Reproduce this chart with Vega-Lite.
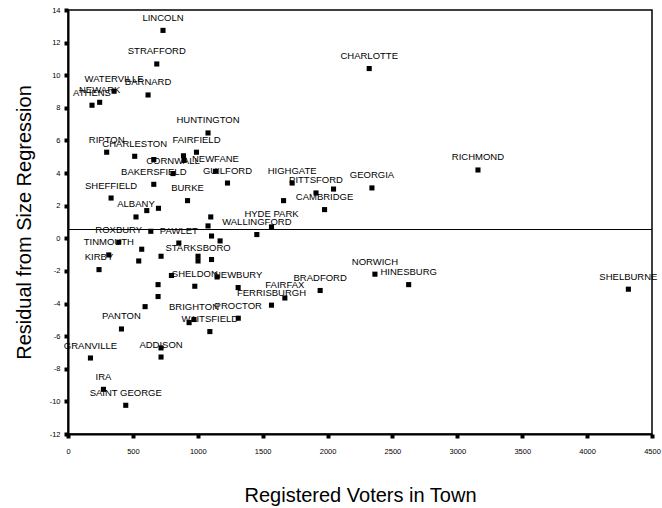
{
  "$schema": "https://vega.github.io/schema/vega-lite/v6.json",
  "width": 584,
  "height": 424,
  "autosize": "none",
  "padding": {"left": 68, "top": 10, "right": 10, "bottom": 74},
  "background": "white",
  "config": {
    "view": {"stroke": "black", "strokeWidth": 1.5},
    "axis": {
      "grid": false,
      "domainColor": "black",
      "domainWidth": 2,
      "tickColor": "black",
      "tickSize": 4,
      "tickWidth": 4,
      "labelColor": "black",
      "labelFont": "Liberation Sans",
      "labelFontSize": 7.5,
      "titleFont": "Liberation Sans",
      "titleFontSize": 20,
      "titleFontWeight": "normal",
      "titleColor": "black"
    }
  },
  "data": {
    "values": [
      {"town": "LINCOLN", "voters": 732, "resid": 12.75},
      {"town": "STRAFFORD", "voters": 684, "resid": 10.69},
      {"town": "BARNARD", "voters": 617, "resid": 8.79},
      {"town": "WATERVILLE", "voters": 355, "resid": 9.02},
      {"town": "NEWARK", "voters": 244, "resid": 8.34},
      {"town": "ATHENS", "voters": 185, "resid": 8.16},
      {"town": "CHARLOTTE", "voters": 2321, "resid": 10.41},
      {"town": "HUNTINGTON", "voters": 1079, "resid": 6.46},
      {"town": "RIPTON", "voters": 298, "resid": 5.28},
      {"town": "CHARLESTON", "voters": 514, "resid": 5.03},
      {"town": "FAIRFIELD", "voters": 990, "resid": 5.28},
      {"town": "CORNWALL", "voters": 809, "resid": 3.97},
      {"town": "NEWFANE", "voters": 1136, "resid": 4.11},
      {"town": "BAKERSFIELD", "voters": 661, "resid": 3.31},
      {"town": "GUILFORD", "voters": 1229, "resid": 3.39},
      {"town": "HIGHGATE", "voters": 1727, "resid": 3.39},
      {"town": "PITTSFORD", "voters": 1911, "resid": 2.78},
      {"town": "GEORGIA", "voters": 2342, "resid": 3.09},
      {"town": "RICHMOND", "voters": 3159, "resid": 4.19},
      {"town": "SHEFFIELD", "voters": 332, "resid": 2.47},
      {"town": "BURKE", "voters": 921, "resid": 2.31},
      {"town": "CAMBRIDGE", "voters": 1977, "resid": 1.76},
      {"town": "ALBANY", "voters": 524, "resid": 1.31},
      {"town": "HYDE PARK", "voters": 1568, "resid": 0.70},
      {"town": "WALLINGFORD", "voters": 1455, "resid": 0.23},
      {"town": "ROXBURY", "voters": 391, "resid": -0.24},
      {"town": "PAWLET", "voters": 854, "resid": -0.29},
      {"town": "TINMOUTH", "voters": 314, "resid": -1.02},
      {"town": "STARKSBORO", "voters": 1002, "resid": -1.39},
      {"town": "KIRBY", "voters": 239, "resid": -1.92},
      {"town": "SHELDON", "voters": 977, "resid": -2.94},
      {"town": "NEWBURY", "voters": 1311, "resid": -3.02},
      {"town": "NORWICH", "voters": 2365, "resid": -2.20},
      {"town": "HINESBURG", "voters": 2625, "resid": -2.84},
      {"town": "BRADFORD", "voters": 1943, "resid": -3.20},
      {"town": "FAIRFAX", "voters": 1671, "resid": -3.66},
      {"town": "FERRISBURGH", "voters": 1568, "resid": -4.10},
      {"town": "SHELBURNE", "voters": 4318, "resid": -3.12},
      {"town": "BRIGHTON", "voters": 971, "resid": -4.98},
      {"town": "PROCTOR", "voters": 1312, "resid": -4.90},
      {"town": "WAITSFIELD", "voters": 1093, "resid": -5.72},
      {"town": "PANTON", "voters": 412, "resid": -5.56},
      {"town": "ADDISON", "voters": 717, "resid": -7.28},
      {"town": "GRANVILLE", "voters": 173, "resid": -7.34},
      {"town": "IRA", "voters": 273, "resid": -9.26},
      {"town": "SAINT GEORGE", "voters": 445, "resid": -10.24},
      {"town": "", "voters": 661, "resid": 4.83},
      {"town": "", "voters": 890, "resid": 5.06},
      {"town": "", "voters": 895, "resid": 4.78},
      {"town": "", "voters": 607, "resid": 1.70},
      {"town": "", "voters": 697, "resid": 1.84},
      {"town": "", "voters": 1100, "resid": 1.31},
      {"town": "", "voters": 1079, "resid": 0.76},
      {"town": "", "voters": 638, "resid": 0.43},
      {"town": "", "voters": 1106, "resid": 0.14},
      {"town": "", "voters": 1172, "resid": -0.16},
      {"town": "", "voters": 568, "resid": -0.67},
      {"town": "", "voters": 545, "resid": -1.39},
      {"town": "", "voters": 717, "resid": -1.10},
      {"town": "", "voters": 1002, "resid": -1.10},
      {"town": "", "voters": 1106, "resid": -1.30},
      {"town": "", "voters": 797, "resid": -2.28},
      {"town": "", "voters": 1149, "resid": -2.37},
      {"town": "", "voters": 694, "resid": -2.84},
      {"town": "", "voters": 694, "resid": -3.57},
      {"town": "", "voters": 594, "resid": -4.19},
      {"town": "", "voters": 933, "resid": -5.17},
      {"town": "", "voters": 717, "resid": -6.72},
      {"town": "", "voters": 1661, "resid": 2.31},
      {"town": "", "voters": 2046, "resid": 3.02}
    ]
  },
  "encoding": {
    "x": {
      "field": "voters",
      "type": "quantitative",
      "scale": {"domain": [0, 4500], "nice": false, "zero": false},
      "axis": {
        "title": "Registered Voters in Town",
        "values": [0, 500, 1000, 1500, 2000, 2500, 3000, 3500, 4000, 4500],
        "labelExpr": "'' + datum.value",
        "labelPadding": 9,
        "titlePadding": 31,
        "labelFlush": false,
        "labelOverlap": false
      }
    },
    "y": {
      "field": "resid",
      "type": "quantitative",
      "scale": {"domain": [-12, 14], "nice": false, "zero": false},
      "axis": {
        "title": "Residual from Size Regression",
        "values": [-12, -10, -8, -6, -4, -2, 0, 2, 4, 6, 8, 10, 12, 14],
        "labelExpr": "'' + datum.value",
        "labelPadding": 4,
        "titlePadding": 15,
        "labelFlush": false,
        "labelOverlap": false
      }
    }
  },
  "layer": [
    {
      "data": {"values": [{"resid": 0.54}]},
      "mark": {"type": "rule", "color": "black", "strokeWidth": 1.2},
      "encoding": {"x": null}
    },
    {
      "mark": {"type": "point", "shape": "square", "filled": true, "color": "black", "size": 26, "opacity": 1}
    },
    {
      "mark": {"type": "text", "font": "Liberation Sans", "fontSize": 9.5, "color": "black", "align": "center", "baseline": "alphabetic", "dy": -9.5},
      "encoding": {"text": {"field": "town"}}
    }
  ]
}
